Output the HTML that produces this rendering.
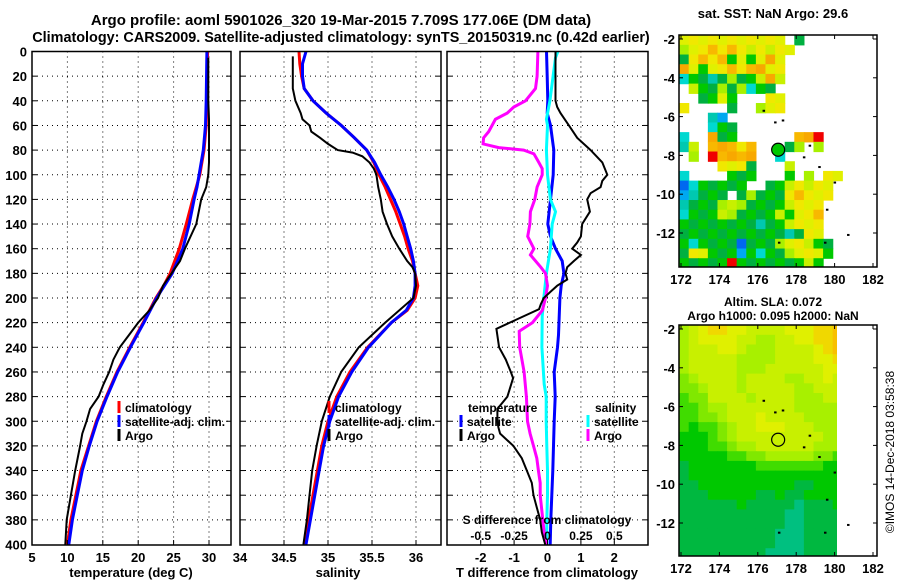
<!DOCTYPE html>
<html><head><meta charset="utf-8"><style>
html,body{margin:0;padding:0;background:#fff;}
svg{display:block;font-family:"Liberation Sans",Arial,sans-serif;font-weight:bold;}
</style></head><body>
<svg id="fig" width="900" height="580" viewBox="0 0 900 580" xmlns="http://www.w3.org/2000/svg">
<defs>
<clipPath id="c1"><rect x="32" y="51" width="199" height="494"/></clipPath>
<clipPath id="c2"><rect x="240" y="51" width="201" height="494"/></clipPath>
<clipPath id="c3"><rect x="447" y="51" width="201" height="494"/></clipPath>
<clipPath id="cm1"><rect x="679" y="35" width="198" height="232"/></clipPath>
<clipPath id="cm2"><rect x="679" y="325" width="158" height="231"/></clipPath>
</defs>
<text x="341" y="25" font-size="15" text-anchor="middle">Argo profile: aoml 5901026_320 19-Mar-2015 7.709S 177.06E (DM data)</text>
<text x="341" y="42" font-size="14.4" text-anchor="middle">Climatology: CARS2009. Satellite-adjusted climatology: synTS_20150319.nc (0.42d earlier)</text>
<g id="grid"></g>
<g id="lines"></g>
<g id="axes"></g>
<g id="maps"></g>
<text x="773" y="18" font-size="13" text-anchor="middle">sat. SST: NaN Argo: 29.6</text>
<text x="773" y="306" font-size="12" text-anchor="middle">Altim. SLA: 0.072</text>
<text x="773" y="320" font-size="12" text-anchor="middle">Argo h1000: 0.095 h2000: NaN</text>
<text transform="translate(894,452) rotate(-90)" font-size="12" font-weight="normal" text-anchor="middle">©IMOS 14-Dec-2018 03:58:38</text>
</svg>
<script>
// ---------- data ----------
const depthTicks=[0,20,40,60,80,100,120,140,160,180,200,220,240,260,280,300,320,340,360,380,400];
const tempTicks=[5,10,15,20,25,30];
const salTicks=[34,34.5,35,35.5,36];
const tdiffTicks=[-2,-1,0,1,2];
const sdiffTicks=[-0.5,-0.25,0,0.25,0.5];
const sdiffLabels=["-0.5","-0.25","0","0.25","0.5"];

const argoTD=[5,20,40,55,70,90,100,110,120,140,160,170,180,190,200,210,220,230,240,250,260,270,280,290,300,310,320,340,360,380,400];
const argoT=[29.9,29.9,29.9,30.0,30.0,30.0,29.9,29.6,28.9,28.2,26.6,25.9,24.7,23.5,22.8,21.6,20.0,18.7,17.4,16.5,15.9,15.1,14.4,13.2,12.7,12.1,11.8,11.1,10.5,9.9,9.7];
const climTD=[0,40,60,80,100,110,120,140,160,180,190,200,220,240,260,280,300,320,340,360,380,400];
const climT=[29.8,29.7,29.6,29.3,28.7,28.2,27.7,26.8,25.8,24.5,23.6,22.5,20.7,18.8,17.0,15.5,14.1,13.0,11.9,11.2,10.5,10.0];
const satT=[29.7,29.6,29.5,29.2,28.6,28.3,27.9,27.2,26.3,24.8,23.7,22.6,20.8,18.9,17.1,15.6,14.2,13.1,12.1,11.4,10.7,10.2];

const argoSD=[4,20,30,40,50,55,60,65,70,75,80,82,85,90,95,100,110,120,130,140,150,160,170,175,180,190,200,220,240,260,280,300,320,340,360,380,400];
const argoS=[34.60,34.60,34.60,34.63,34.69,34.71,34.79,34.81,34.91,35.0,35.11,35.28,35.39,35.47,35.52,35.55,35.57,35.60,35.62,35.67,35.73,35.81,35.90,35.96,35.99,36.0,35.97,35.65,35.35,35.15,35.02,34.93,34.87,34.82,34.79,34.76,34.72];
const climSD=[0,10,20,30,40,50,60,70,80,90,100,110,120,130,140,150,160,170,180,190,200,210,220,240,260,280,300,320,340,360,380,400];
const climS=[34.67,34.68,34.70,34.73,34.83,34.98,35.15,35.30,35.44,35.52,35.58,35.65,35.71,35.77,35.82,35.87,35.91,35.96,35.99,36.02,35.99,35.90,35.72,35.45,35.25,35.10,35.00,34.93,34.88,34.83,34.78,34.74];
const satS=[34.75,34.71,34.71,34.73,34.83,34.98,35.15,35.30,35.44,35.53,35.60,35.68,35.75,35.81,35.86,35.90,35.94,35.97,35.99,35.99,35.97,35.89,35.72,35.46,35.27,35.12,35.02,34.95,34.90,34.85,34.80,34.75];

const dTD=[0,40,45,50,60,70,80,90,100,105,110,115,120,130,140,150,155,160,165,170,175,180,185,190,195,200,205,209,225,240,250,260,265,280,290,300,305,310,320,330,340,350,360,370,380,390,400];
const dTargo=[0.24,0.24,0.29,0.39,0.64,0.89,1.29,1.64,1.79,1.64,1.59,1.29,1.19,1.27,1.04,1.0,0.89,0.74,1.0,0.79,0.59,0.54,0.59,0.29,0.09,-0.11,-0.2,-0.25,-1.53,-1.45,-1.25,-1.1,-1.03,-1.2,-1.5,-1.5,-1.47,-1.42,-1.02,-0.77,-0.62,-0.47,-0.42,-0.32,-0.22,-0.17,-0.07];
const dTsD=[0,20,40,50,60,80,100,120,140,150,160,170,180,190,200,215,230,240,260,280,300,320,340,360,380,400];
const dTsat=[-0.03,-0.01,0.01,-0.01,0.09,0.19,0.17,0.09,0.01,0.09,0.24,0.44,0.49,0.41,0.37,0.35,0.33,0.30,0.20,0.23,0.20,0.18,0.16,0.13,0.10,0.08];
const dSD=[0,20,30,40,45,50,55,60,65,70,75,78,80,83,90,95,100,110,120,130,140,150,160,165,175,180,190,200,210,220,227,240,260,280,300,310,320,330,340,350,360,370,380,390,400];
const dSargo=[-0.072,-0.078,-0.09,-0.165,-0.252,-0.302,-0.39,-0.415,-0.44,-0.478,-0.482,-0.365,-0.178,-0.102,-0.065,-0.04,-0.04,-0.078,-0.095,-0.128,-0.132,-0.148,-0.102,-0.128,-0.05,-0.015,0,-0.015,-0.038,-0.112,-0.212,-0.208,-0.175,-0.158,-0.15,-0.13,-0.105,-0.08,-0.068,-0.055,-0.055,-0.045,-0.035,-0.025,-0.01];
const dSsD=[0,5,20,40,55,60,80,100,120,130,140,160,180,200,215,240,270,280,300,320,340,360,380,400];
const dSsat=[0.078,0.06,0.042,0.018,-0.008,0,-0.008,0,0.022,0.06,0.035,0.022,-0.008,-0.028,-0.04,-0.042,-0.025,-0.01,-0.01,-0.005,0,0,-0.005,-0.005];

const lonTicks=[172,174,176,178,180,182];
const latTicks=[-2,-4,-6,-8,-10,-12];
const sstGrid=[
"yyyyyyyyyyy.g....","lyyoyoylylyy.....","gyoyogygyoy......","oygyyoyooyy......",
"cggcglgglol......",".lgglglcgg.......","..ggyg...yy......","y....g..lyy......",
"...cb............","...cgg...........","c..ogg......oor..","cl.oooyo...gl.l..",
".l.roooo..c......","....yyyg...l.....","c....ggg...g.l.yy","bcggggg..gglylyy.",
"bcggg.glgggyoyyy.","cggglllgggglyyy..","cgggllgggglgyyo..","ggggggggcgglyyy..",
"gggggggggggcgyy..","gcggggbggglyylgg.","gyygggbgcgglyyyg.","gggggrggggggglg..","ggggggggggggggg.."];
const slaGrid=[
"56788776666777889","56777766556677889","56667765556666789","56666655556666778",
"56666655566666677","45666656666556676","44566656666655666","34466665666655566",
"33455666666655555","33445666766665555","32334566777666555","22234566666666655",
"22233455666666555","22222334455555443","12222222333333322","12222222222222222",
"11222222222211222","11122222112112222","11111121111101112","11111111111001111",
"11111111111001111","11111111110001111","11111111110001111","11111111100001111","11111111100001111"];
const argoLon=177.06, argoLat=-7.709;

// ---------- helpers ----------
const NS="http://www.w3.org/2000/svg";
function mk(tag,attrs,parent){const e=document.createElementNS(NS,tag);for(const k in attrs)e.setAttribute(k,attrs[k]);(parent||document.getElementById('fig')).appendChild(e);return e;}
const yD=d=>51.5+d*1.2325;
const xT=t=>32+(t-5)*7.08;
const xS=s=>240+(s-34)*88;
const xDT=u=>547.5+u*33.4;
const xDS=s=>547.5+s*133.6;
const xLon=l=>681+(l-172)*19.2;
const yLat1=l=>39+(-2-l)*19.4;
const yLat2=l=>329+(-2-l)*19.4;

const G=document.getElementById('grid'),L=document.getElementById('lines'),A=document.getElementById('axes'),M=document.getElementById('maps');
const panels=[{x0:32,x1:231,vx:[10,15,20,25,30].map(xT)},{x0:240,x1:441,vx:[34.5,35,35.5,36].map(xS)},{x0:447,x1:648,vx:tdiffTicks.map(xDT)}];
panels.forEach((p,i)=>{
  depthTicks.slice(1,-1).forEach(d=>{const l=mk('line',{x1:p.x0,x2:p.x1,y1:yD(d),y2:yD(d),stroke:'#000','stroke-width':1,'stroke-dasharray':'1 4'},G);
    
    [[p.x0,p.x0+5],[p.x1-5,p.x1]].forEach(a=>{const t=mk('line',{x1:a[0],x2:a[1],y1:yD(d),y2:yD(d),stroke:'#000'},A);});});
  p.vx.forEach(x=>{const l=mk('line',{x1:x,x2:x,y1:51.5,y2:545,stroke:'#000','stroke-width':1,'stroke-dasharray':'1 4'},G);
    
    const t=mk('line',{x1:x,x2:x,y1:540,y2:545,stroke:'#000'},A);});
  const r=mk('rect',{x:p.x0,y:51.5,width:p.x1-p.x0,height:493.5,fill:'none',stroke:'#000','stroke-width':1.5},A);
  
});
depthTicks.forEach(d=>{const t=mk('text',{x:27,y:yD(d)+5,'font-size':13,'text-anchor':'end'},A);t.textContent=d;
  });
function xlabels(ticks,fx,y,labels,fs){ticks.forEach((v,i)=>{const t=mk('text',{x:fx(v),y:y,'font-size':fs||13,'text-anchor':'middle'},A);t.textContent=labels?labels[i]:v;
  });}
xlabels(tempTicks,xT,562);
xlabels(salTicks,xS,562);
xlabels(tdiffTicks,xDT,562);
xlabels(sdiffTicks,xDS,540,sdiffLabels,12);
[[131,'temperature (deg C)','x-axis-title-temperature'],[338,'salinity','x-axis-title-salinity'],[547,'T difference from climatology','x-axis-title-tdiff']].forEach(a=>{
  const t=mk('text',{x:a[0],y:577,'font-size':13,'text-anchor':'middle'},A);t.textContent=a[1];});
{const t=mk('text',{x:547,y:524,'font-size':12,'text-anchor':'middle'},A);t.textContent='S difference from climatology';}

function line(ds,vs,fx,color,w,clip,name){const pts=ds.map((d,i)=>fx(vs[i]).toFixed(1)+','+yD(d).toFixed(1)).join(' ');
  const p=mk('polyline',{points:pts,fill:'none',stroke:color,'stroke-width':w,'clip-path':'url(#'+clip+')','stroke-linejoin':'miter'},L);
  }
line(climTD,climT,xT,'#f00',3,'c1','temp-climatology-line');
line(climTD,satT,xT,'#00f',3,'c1','temp-satellite-line');
line(argoTD,argoT,xT,'#000',2,'c1','temp-argo-line');
line(climSD,climS,xS,'#f00',3,'c2','sal-climatology-line');
line(climSD,satS,xS,'#00f',3,'c2','sal-satellite-line');
line(argoSD,argoS,xS,'#000',2,'c2','sal-argo-line');
line(dTsD,dTsat,xDT,'#00f',3,'c3','tdiff-satellite-line');
line(dSsD,dSsat,xDS,'#0ff',3,'c3','sdiff-satellite-line');
line(dSD,dSargo,xDS,'#f0f',3,'c3','sdiff-argo-line');
line(dTD,dTargo,xDT,'#000',2,'c3','tdiff-argo-line');

function legend(items){items.forEach(it=>{
  if(it.c){const r=mk('rect',{x:it.x-1.5,y:it.y-11,width:3,height:12,fill:it.c},A);}
  const t=mk('text',{x:it.x+(it.c?6:0),y:it.y,'font-size':12},A);t.textContent=it.t;});}
legend([{x:119,y:412,c:'#f00',t:'climatology'},{x:119,y:426,c:'#00f',t:'satellite-adj. clim.'},{x:119,y:440,c:'#000',t:'Argo'},
 {x:329,y:412,c:'#f00',t:'climatology'},{x:329,y:426,c:'#00f',t:'satellite-adj. clim.'},{x:329,y:440,c:'#000',t:'Argo'},
 {x:468,y:412,t:'temperature'},{x:461,y:426,c:'#00f',t:'satellite'},{x:461,y:440,c:'#000',t:'Argo'},
 {x:595,y:412,t:'salinity'},{x:588,y:426,c:'#0ff',t:'satellite'},{x:588,y:440,c:'#f0f',t:'Argo'}]);

// ---------- maps ----------
const sstCol={y:'#f0e800',o:'#f8a800',r:'#f00000',g:'#00c800',l:'#a8f000',c:'#00c8b0',b:'#0068f0',k:'#001890'};
const sstAlt={y:'#e0f000',o:'#f8b800',r:'#f00000',g:'#00b040',l:'#c8f000',c:'#00d8d0',b:'#00a8f0',k:'#001890'};
const slaCol=['#00c080','#00b840','#00c800','#40dc00','#80e800','#a8f000','#c8f000','#e0f000','#f0d800','#f8c000'];
function drawMap(grid,yL,clip,colf,name){
  const g=mk('g',{'clip-path':'url(#'+clip+')'},M);
  const cw=0.5, rh=0.5;
  grid.forEach((row,ri)=>{[...row].forEach((ch,ci)=>{const col=colf(ch,ri,ci);if(!col)return;
    const l0=171.9+ci*cw,la0=-1.8-ri*rh;
    const x=xLon(l0),y=yL(la0),w=xLon(l0+cw)-x+0.6,h=yL(la0-rh)-y+0.6;
    const r=mk('rect',{x:x,y:y,width:w,height:h,fill:col},g);});});
}
drawMap(sstGrid,yLat1,'cm1',(ch,ri,ci)=>ch==='.'?null:((ri+ci)%2?sstCol[ch]:sstAlt[ch]),'sst-map');
drawMap(slaGrid,yLat2,'cm2',(ch,ri,ci)=>slaCol[+ch],'sla-map');
[[yLat1,35,267,'map1'],[yLat2,325,556,'map2']].forEach(m=>{
  const yL=m[0];
  const fr=mk('rect',{x:679,y:m[1],width:198,height:m[2]-m[1],fill:'none',stroke:'#000','stroke-width':1.5},M);
  lonTicks.forEach(l=>{const x=xLon(l);
    [[m[2]-4,m[2]],[m[1],m[1]+4]].forEach(a=>{const t=mk('line',{x1:x,x2:x,y1:a[0],y2:a[1],stroke:'#000'},M);});
    const t=mk('text',{x:x,y:m[2]+17,'font-size':13,'text-anchor':'middle'},M);t.textContent=l;});
  latTicks.forEach(la=>{const y=yL(la);
    [[679,683],[873,877]].forEach(a=>{const t=mk('line',{x1:a[0],x2:a[1],y1:y,y2:y,stroke:'#000'},M);});
    const t=mk('text',{x:675,y:y+5,'font-size':13,'text-anchor':'end'},M);t.textContent=la;});
  const c=mk('circle',{cx:xLon(argoLon),cy:yL(argoLat),r:6.5,fill:m[3]==='map1'?'#00c800':'none',stroke:'#000','stroke-width':1.2},M);
  
  [[176.9,-6.3],[176.3,-5.7],[177.3,-6.2],[178.7,-7.5],[178.4,-8.1],[179.2,-8.6],[180,-9.4],[180.7,-12.1],[177.1,-12.5],[179.5,-12.5],[179.6,-10.8]].forEach(p=>{
    const d=mk('rect',{x:xLon(p[0])-1,y:yL(p[1])-1,width:2.5,height:2,fill:'#000'},M);});
});
</script>
</body></html>
